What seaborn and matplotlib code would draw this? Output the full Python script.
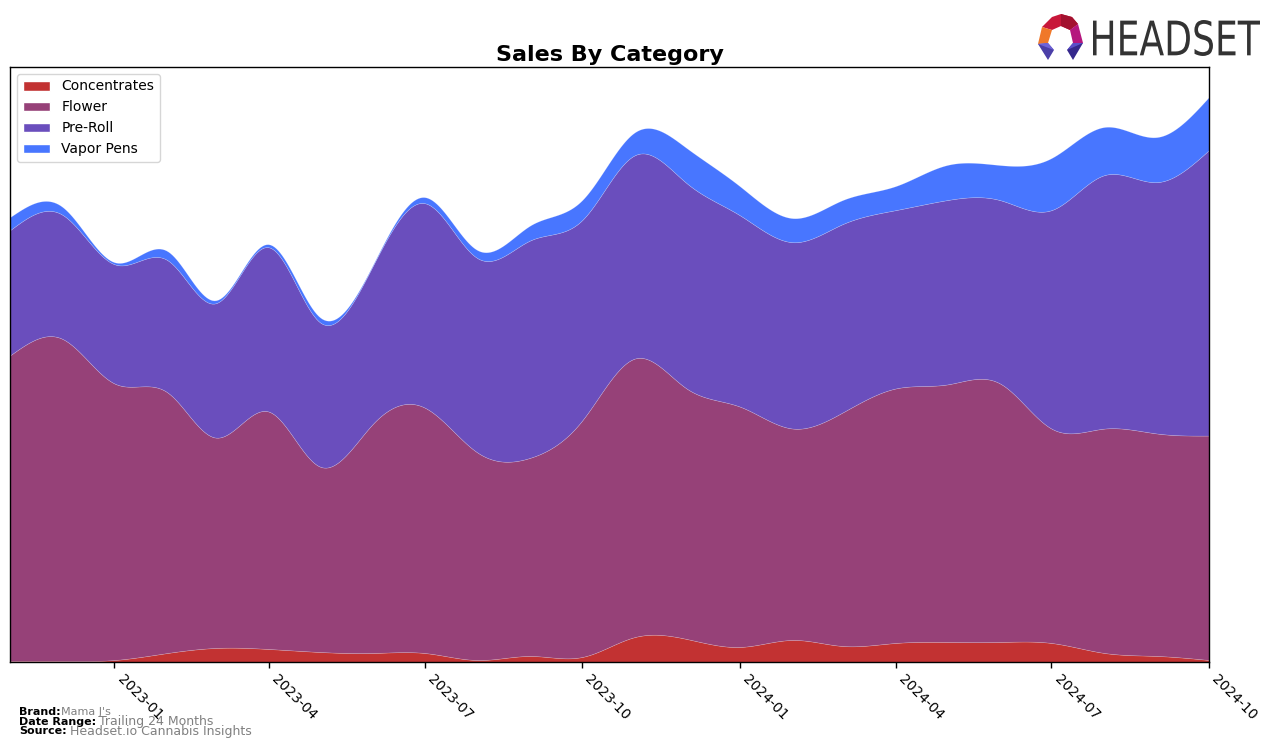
import numpy as np
import pandas as pd
import matplotlib
matplotlib.use("Agg")
import matplotlib.pyplot as plt
import matplotlib.dates as mdates
from matplotlib.patches import Polygon, Patch, PathPatch
from matplotlib.textpath import TextPath
from matplotlib.font_manager import FontProperties
from matplotlib.transforms import Affine2D
import seaborn as sns

# ---------------- data ----------------
months = pd.date_range("2022-11-01", "2024-10-01", freq="MS")
categories = ["Concentrates", "Flower", "Pre-Roll", "Vapor Pens"]

concentrates = [1, 1, 2, 9, 14, 13, 10, 9, 9, 2, 6, 5,
                25, 23, 15, 22, 16, 19, 20, 20, 19, 9, 6, 2]
flower = [305, 322, 276, 260, 210, 237, 185, 229, 245, 207, 198, 236,
          278, 250, 240, 211, 233, 254, 257, 258, 214, 224, 222, 224]
pre_roll = [125, 124, 119, 132, 134, 164, 144, 158, 204, 194, 217, 200,
            203, 205, 191, 186, 188, 178, 184, 183, 218, 253, 251, 285]
vapor_pens = [13, 8, 2, 9, 3, 3, 5, 1, 6, 8, 15, 20,
              23, 35, 29, 24, 24, 24, 35, 35, 52, 48, 45, 53]

colors = ["#C23232", "#964178", "#6A4EBD", "#4876FF"]

# ---------------- smoothing (natural cubic spline) ----------------
def natural_cubic(x, y, xs):
    x = np.asarray(x, float)
    y = np.asarray(y, float)
    n = len(x)
    h = np.diff(x)
    A = np.zeros((n, n))
    b = np.zeros(n)
    A[0, 0] = 1
    A[-1, -1] = 1
    for i in range(1, n - 1):
        A[i, i - 1] = h[i - 1]
        A[i, i] = 2 * (h[i - 1] + h[i])
        A[i, i + 1] = h[i]
        b[i] = 3 * ((y[i + 1] - y[i]) / h[i] - (y[i] - y[i - 1]) / h[i - 1])
    c = np.linalg.solve(A, b)
    out = np.empty_like(xs, dtype=float)
    idx = np.clip(np.searchsorted(x, xs) - 1, 0, n - 2)
    for k, xv in enumerate(xs):
        i = idx[k]
        dx = xv - x[i]
        bi = (y[i + 1] - y[i]) / h[i] - h[i] * (2 * c[i] + c[i + 1]) / 3
        di = (c[i + 1] - c[i]) / (3 * h[i])
        out[k] = y[i] + bi * dx + c[i] * dx ** 2 + di * dx ** 3
    return out

xnum = mdates.date2num(months)
xs = np.linspace(xnum[0], xnum[-1], 600)
series = [concentrates, flower, pre_roll, vapor_pens]
smooth = [np.clip(natural_cubic(xnum, s, xs), 0, None) for s in series]

# ---------------- figure ----------------
sns.set_style("white")
plt.rcParams["font.family"] = ["DejaVu Sans"]
plt.rcParams["text.color"] = "black"
plt.rcParams["xtick.color"] = "black"
plt.rcParams["axes.labelcolor"] = "black"
fig = plt.figure(figsize=(12.76, 7.48), dpi=100)
W, H = 1276, 748
ax = fig.add_axes([10 / W, 1 - 662 / H, (1209 - 10) / W, (662 - 67) / H])

ax.stackplot(mdates.num2date(xs), *smooth, colors=colors, labels=categories,
             linewidth=0.4, edgecolor=(1, 1, 1, 0.25))
total = np.sum(smooth, axis=0)
ax.set_xlim(mdates.num2date(xnum[0]), mdates.num2date(xnum[-1]))
ax.set_ylim(0, total.max() * 1.053)
ax.set_yticks([])
ax.xaxis.set_major_locator(mdates.MonthLocator(bymonth=[1, 4, 7, 10]))
ax.xaxis.set_major_formatter(mdates.DateFormatter("%Y-%m"))
ax.tick_params(axis="x", bottom=True, length=4, width=1, labelsize=10, pad=3,
               colors="black")
plt.setp(ax.get_xticklabels(), rotation=-45, ha="left")
for sp in ax.spines.values():
    sp.set_color("black")
    sp.set_linewidth(1)

ax.set_title("Sales By Category", fontsize=16, fontweight="bold", pad=4, color="black")

handles = [Patch(facecolor=c, label=l) for c, l in zip(colors, categories)]
leg = ax.legend(handles=handles, loc="upper left", fontsize=10, frameon=True,
                bbox_to_anchor=(0.0, 1.0), borderaxespad=0.5)
for t in leg.get_texts():
    t.set_color("black")

# ---------------- footer ----------------
fig.text(19 / W, 1 - 712 / H, "Brand:", fontsize=8, fontweight="bold", va="center")
fig.text(61 / W, 1 - 712 / H, "Mama J's", fontsize=8, color="gray", va="center")
fig.text(19 / W, 1 - 722 / H, "Date Range:", fontsize=8, fontweight="bold", va="center")
fig.text(99 / W, 1 - 722 / H, "Trailing 24 Months", fontsize=9, color="gray", va="center")
fig.text(19 / W, 1 - 731 / H, "Source:", fontsize=8, fontweight="bold", va="center")
fig.text(70 / W, 1 - 731 / H, "Headset.io Cannabis Insights", fontsize=9, color="gray", va="center")

# ---------------- logo ----------------
lax = fig.add_axes([0, 0, 1, 1], zorder=5)
lax.set_xlim(0, W)
lax.set_ylim(H, 0)
lax.axis("off")
lax.patch.set_alpha(0)
pieces = [
    ([(1042, 27), (1052, 17), (1061, 14), (1072, 17), (1078, 24), (1070, 30), (1061, 26), (1052, 30)], "#C8173A"),
    ([(1061, 14), (1072, 17), (1078, 24), (1070, 30), (1061, 26)], "#A3122F"),
    ([(1042, 27), (1052, 30), (1048, 43), (1038, 44)], "#F0782A"),
    ([(1078, 24), (1083, 43), (1073, 43), (1070, 30)], "#B5177E"),
    ([(1038, 44), (1048, 43), (1054, 50), (1048, 60)], "#4B3FA8"),
    ([(1038, 44), (1048, 43), (1054, 50)], "#6F63D8"),
    ([(1083, 43), (1073, 43), (1067, 50), (1073, 60)], "#35288C"),
    ([(1083, 43), (1073, 43), (1067, 50)], "#5A4FC8"),
]
for pts, col in pieces:
    lax.add_patch(Polygon(pts, closed=True, facecolor=col, edgecolor="none"))

tp = TextPath((0, 0), "HEADSET", size=50, prop=FontProperties(family="DejaVu Sans"))
ext = tp.get_extents()
sx = (1260 - 1093) / ext.width
sy = (56 - 20) / ext.height
tr = Affine2D().translate(-ext.x0, -ext.y0).scale(sx, -sy).translate(1093, 56)
lax.add_patch(PathPatch(tr.transform_path(tp), facecolor="#333333", edgecolor="none"))

fig.savefig("out.png", dpi=100)
